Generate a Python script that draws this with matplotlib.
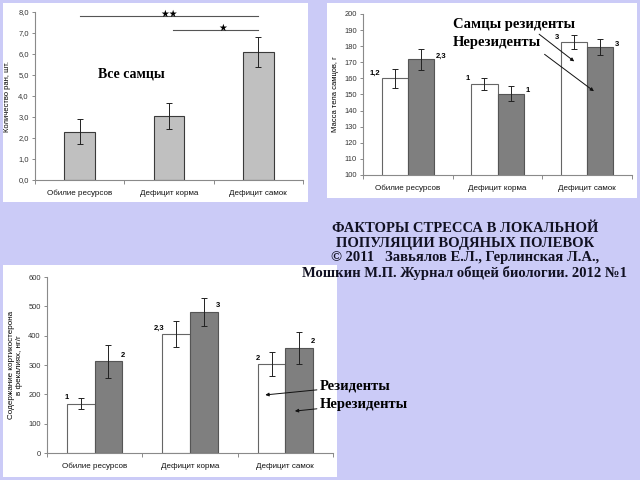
import matplotlib
matplotlib.use("Agg")
import matplotlib.pyplot as plt
from matplotlib.patches import Rectangle

categories = ["Обилие ресурсов", "Дефицит корма", "Дефицит самок"]

# panel 1: wounds, all males
wounds = [2.3, 3.05, 6.1]
wounds_err = [0.6, 0.6, 0.72]

# panel 2: body mass, residents / non-residents
mass_res = [160, 156.5, 182.5]
mass_res_err = [6, 3.5, 4.5]
mass_non = [172, 150.5, 179.5]
mass_non_err = [6.5, 4.5, 5]
mass_res_lbl = ["1,2", "1", "3"]
mass_non_lbl = ["2,3", "1", "3"]

# panel 3: corticosterone
cort_res = [168, 405, 303]
cort_res_err = [18, 45, 40]
cort_non = [312, 482, 358]
cort_non_err = [55, 48, 56]
cort_res_lbl = ["1", "2,3", "2"]
cort_non_lbl = ["2", "3", "2"]

W, H = 640, 480
BG = "#cbcbf7"
SERIF = "Liberation Serif"
SANS = "Liberation Sans"


def fbox(x0, y0, x1, y1):
    return [x0 / W, 1 - y1 / H, (x1 - x0) / W, (y1 - y0) / H]


def panel(fig, x0, y0, x1, y1):
    fig.patches.append(Rectangle((x0 / W, 1 - y1 / H), (x1 - x0) / W, (y1 - y0) / H,
                                 transform=fig.transFigure, facecolor="white",
                                 edgecolor="none", zorder=-5))


def style_axes(ax, ylim, yticks, fmt):
    ax.set_xlim(-0.5, 2.5)
    ax.set_ylim(*ylim)
    ax.set_facecolor("none")
    ax.set_zorder(2)
    for s in ["top", "right"]:
        ax.spines[s].set_visible(False)
    for s in ["left", "bottom"]:
        ax.spines[s].set_color("#8a8a8a")
        ax.spines[s].set_linewidth(0.8)
    ax.set_yticks(yticks)
    ax.set_yticklabels([fmt(v) for v in yticks], fontsize=5.4, color="#333333", family=SANS)
    ax.set_xticks([0, 1, 2])
    ax.set_xticklabels(categories, fontsize=5.8, family=SANS, color="#111111")
    ax.set_xticks([-0.5, 0.5, 1.5, 2.5], minor=True)
    ax.tick_params(axis="x", which="major", length=0, pad=7)
    ax.tick_params(axis="x", which="minor", length=3, color="#8a8a8a", width=0.7)
    ax.tick_params(axis="y", length=2.5, color="#8a8a8a", width=0.7, pad=2)


fig = plt.figure(figsize=(6.4, 4.8), dpi=100)
fig.patch.set_facecolor(BG)

panel(fig, 3, 3, 308, 202)
panel(fig, 327, 3, 637, 198)
panel(fig, 3, 265, 337, 477)

x = [0, 1, 2]
ekw = dict(ecolor="#222222", elinewidth=0.7, capsize=2.2, capthick=0.7)

# ---- panel 1
ax1 = fig.add_axes(fbox(35, 12, 303, 180))
ax1.bar(x, wounds, width=0.34, color="#c0c0c0", edgecolor="#3a3a3a", linewidth=0.8,
        yerr=wounds_err, error_kw=ekw)
style_axes(ax1, (0, 8), [0, 1, 2, 3, 4, 5, 6, 7, 8], lambda v: f"{v:.1f}".replace(".", ","))
ax1.set_ylabel("Количество ран, шт.", fontsize=5.5, family=SANS, labelpad=5)
ax1.plot([0, 2], [7.81, 7.81], color="#555555", lw=0.8, clip_on=False)
ax1.plot([1.05, 2], [7.14, 7.14], color="#555555", lw=0.8, clip_on=False)
ax1.text(1.0, 7.93, "★★", fontsize=7, ha="center", va="center", family="DejaVu Sans")
ax1.text(1.6, 7.22, "★", fontsize=7, ha="center", va="center", family="DejaVu Sans")
ax1.text(0.575, 5.05, "Все самцы", fontsize=10, fontweight="bold", family=SERIF,
         ha="center", va="center")

# ---- panel 2
bw = 0.29
ax2 = fig.add_axes(fbox(363, 14, 632, 175))
xr = [i - bw / 2 for i in x]
xn = [i + bw / 2 for i in x]
ax2.bar(xr, mass_res, width=bw, bottom=0, color="white", edgecolor="#666666",
        linewidth=0.8, yerr=mass_res_err, error_kw=ekw)
ax2.bar(xn, mass_non, width=bw, color="#7f7f7f", edgecolor="#555555",
        linewidth=0.8, yerr=mass_non_err, error_kw=ekw)
style_axes(ax2, (100, 200), list(range(100, 201, 10)), lambda v: f"{v:d}")
ax2.set_ylabel("Масса тела самцов, г", fontsize=5.5, family=SANS, labelpad=4)
for i in x:
    ax2.text(xr[i] - bw / 2 - 0.02, mass_res[i] + 1, mass_res_lbl[i], fontsize=5.5,
             fontweight="bold", family=SANS, ha="right", va="bottom")
    ax2.text(xn[i] + bw / 2 + 0.02, mass_non[i] - 0.5, mass_non_lbl[i], fontsize=5.5,
             fontweight="bold", family=SANS, ha="left", va="bottom")
ax2.text(0.5, 193.3, "Самцы резиденты", fontsize=10.5, fontweight="bold", family=SERIF,
         ha="left", va="center")
ax2.text(0.5, 182, "Нерезиденты", fontsize=10.5, fontweight="bold", family=SERIF,
         ha="left", va="center")
akw = dict(arrowstyle="-|>", color="#111111", lw=0.7, mutation_scale=5)
ax2.annotate("", xy=(1.88, 169.5), xytext=(1.44, 188.5), arrowprops=akw)
ax2.annotate("", xy=(2.1, 151), xytext=(1.5, 176), arrowprops=akw)

# ---- panel 3
ax3 = fig.add_axes(fbox(47, 277, 333, 453))
ax3.bar(xr, cort_res, width=bw, color="white", edgecolor="#666666",
        linewidth=0.8, yerr=cort_res_err, error_kw=ekw)
ax3.bar(xn, cort_non, width=bw, color="#7f7f7f", edgecolor="#555555",
        linewidth=0.8, yerr=cort_non_err, error_kw=ekw)
style_axes(ax3, (0, 600), list(range(0, 601, 100)), lambda v: f"{v:d}")
ax3.set_ylabel("Содержание кортикостерона\nв фекалиях, нг/г", fontsize=5.8,
               family=SANS, labelpad=4, linespacing=1.1)
for i in x:
    ax3.text(xr[i] - bw / 2 + 0.02, cort_res[i] + 8, cort_res_lbl[i], fontsize=5.5,
             fontweight="bold", family=SANS, ha="right", va="bottom")
    ax3.text(xn[i] + bw / 2 - 0.02, cort_non[i] + 10, cort_non_lbl[i], fontsize=5.5,
             fontweight="bold", family=SANS, ha="left", va="bottom")
ax3.annotate("Резиденты", xy=(1.79, 198), xytext=(2.36, 228), fontsize=10.5,
             fontweight="bold", family=SERIF, ha="left", va="center",
             arrowprops=dict(arrowstyle="-|>", color="#111111", lw=0.7, mutation_scale=5,
                             shrinkA=0, shrinkB=0), annotation_clip=False)
ax3.annotate("Нерезиденты", xy=(2.1, 143), xytext=(2.36, 167), fontsize=10.5,
             fontweight="bold", family=SERIF, ha="left", va="center",
             arrowprops=dict(arrowstyle="-|>", color="#111111", lw=0.7, mutation_scale=5,
                             shrinkA=0, shrinkB=0), annotation_clip=False)

# ---- title block
title_lines = [
    "ФАКТОРЫ СТРЕССА В ЛОКАЛЬНОЙ",
    "ПОПУЛЯЦИИ ВОДЯНЫХ ПОЛЕВОК",
    "© 2011   Завьялов Е.Л., Герлинская Л.А.,",
    "Мошкин М.П. Журнал общей биологии. 2012 №1",
]
title_y = [229, 244, 258, 273]
for line, yy in zip(title_lines, title_y):
    fig.text(465 / W, 1 - yy / H, line, fontsize=10.5, fontweight="bold", family=SERIF,
             ha="center", va="center", color="#111122")

fig.savefig("out.png", dpi=100, facecolor=BG)
